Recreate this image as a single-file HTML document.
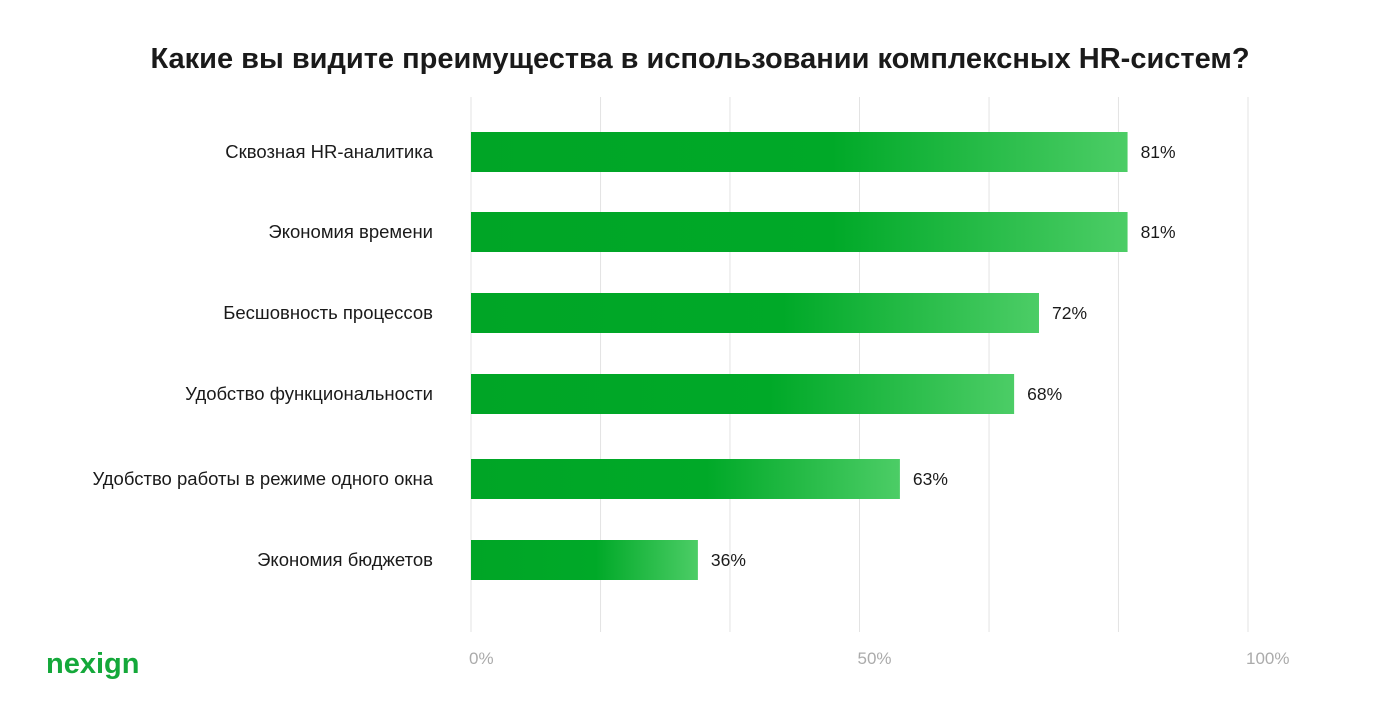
<!DOCTYPE html>
<html><head><meta charset="utf-8">
<style>
body{margin:0;background:#fff;width:1400px;height:720px;overflow:hidden;font-family:"Liberation Sans",sans-serif;}
</style></head>
<body>
<svg width="1400" height="720" id="chart">
<defs>
<linearGradient id="g" x1="0" x2="1" y1="0" y2="0">
<stop offset="0" stop-color="#00a526"/>
<stop offset="0.55" stop-color="#00a928"/>
<stop offset="1" stop-color="#4ccd66"/>
</linearGradient>
</defs>
<text x="700" y="68" text-anchor="middle" font-size="29" font-weight="bold" fill="#1a1a1a">Какие вы видите преимущества в использовании комплексных HR-систем?</text>
<g id="grid"></g>
<g id="bars"></g>
<g id="ticks"></g>
<text x="46" y="673" font-size="29" font-weight="bold" fill="#14a83a">nexign</text>
</svg>
<script>
const categories=["Сквозная HR-аналитика","Экономия времени","Бесшовность процессов","Удобство функциональности","Удобство работы в режиме одного окна","Экономия бюджетов"];
const values=[84.5,84.5,73.1,69.9,55.2,29.2];
const valueLabels=["81%","81%","72%","68%","63%","36%"];
const tickValues=[0,50,100];
const tickLabels=["0%","50%","100%"];
const gridValues=[0,16.67,33.33,50,66.67,83.33,100];
const rowCenters=[152,232,313,394,479,560];
const ns="http://www.w3.org/2000/svg";
const x=v=>471+v*7.77;
function mk(t,a,p){const e=document.createElementNS(ns,t);for(const k in a)e.setAttribute(k,a[k]);p.appendChild(e);return e;}
const grid=document.getElementById('grid'),bars=document.getElementById('bars'),ticks=document.getElementById('ticks');
gridValues.forEach(v=>{const l=mk('line',{x1:x(v),x2:x(v),y1:97,y2:632,stroke:'#e3e3e3','stroke-width':1},grid);

});
tickValues.forEach((v,i)=>{const t=mk('text',{x:x(v)-2,y:664,'text-anchor':'start','font-size':17,fill:'#ababab'},ticks);t.textContent=tickLabels[i];

});
categories.forEach((c,i)=>{const cy=rowCenters[i];
const lab=mk('text',{x:433,y:cy+6,'text-anchor':'end','font-size':18.5,fill:'#1a1a1a'},bars);lab.textContent=c;


const r=mk('rect',{x:x(0),y:cy-20,width:x(values[i])-x(0),height:40,fill:'url(#g)'},bars);


const vl=mk('text',{x:x(values[i])+13,y:cy+6,'font-size':17.5,fill:'#1a1a1a'},bars);vl.textContent=valueLabels[i];

});
</script>
</body></html>
